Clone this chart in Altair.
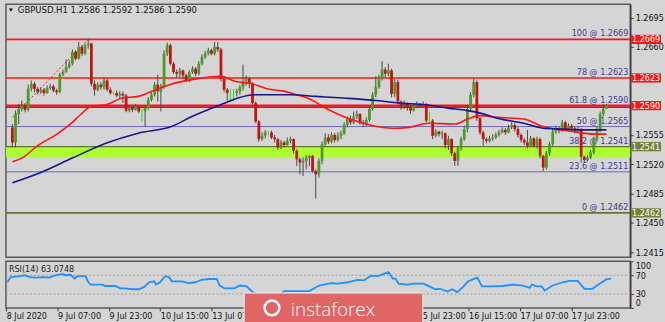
import altair as alt
import pandas as pd

# ---------------- data (prices in pips above 1.2400) ----------------
first_open = 164
close_pips = [146,180,186,190,185,210,216,210,206,209,
              205,211,213,208,206,227,230,236,240,254,
              246,260,252,262,264,216,209,215,212,220,
              209,205,205,202,204,202,184,188,185,189,
              183,183,187,197,203,215,207,213,252,262,
              240,230,228,232,226,220,230,234,228,240,
              248,252,256,252,260,257,222,209,205,205,
              205,207,212,219,222,216,193,171,150,154,
              158,158,152,150,140,146,143,148,150,136,
              126,122,124,128,130,112,108,124,144,152,
              147,155,149,154,157,167,174,170,177,180,
              170,168,173,186,203,212,223,233,228,232,
              204,218,195,190,193,188,184,190,192,190,
              192,172,172,154,159,156,157,143,150,133,
              124,139,150,162,186,203,218,175,158,150,
              148,151,152,155,158,161,158,164,167,162,
              155,149,146,142,151,142,150,130,116,133,
              144,159,163,160,170,162,166,163,160,162,
              129,125,128,134,150,162,180,186,190]
high_pips = [168,184,192,196,193,215,220,218,212,212,
             211,214,216,215,210,229,233,245,244,257,
             256,266,262,264,270,265,220,218,218,223,
             222,212,207,208,207,207,204,191,190,192,
             190,186,189,200,206,218,227,216,256,265,
             264,242,233,235,233,228,232,237,236,243,
             251,255,259,258,266,266,259,224,211,210,
             210,210,215,239,226,224,218,195,173,158,
             161,160,160,155,151,149,148,152,153,151,
             138,128,128,131,131,131,114,127,147,157,
             156,158,157,158,160,170,177,178,183,184,
             181,173,176,189,206,225,227,243,236,240,
             234,222,221,196,196,194,190,193,195,193,
             195,193,183,174,162,160,160,158,154,151,
             135,142,153,166,190,206,222,220,176,160,
             152,154,156,158,161,164,163,167,170,169,
             164,157,151,161,154,152,153,152,131,136,
             147,162,166,165,173,172,169,168,165,165,
             163,130,131,137,153,165,183,192,192]
low_pips = [140,140,168,183,182,183,207,206,203,204,
            202,204,209,206,203,205,225,229,234,238,
            244,245,249,250,258,213,202,207,209,209,
            207,203,203,200,198,193,182,182,182,184,
            181,171,165,185,195,201,195,183,210,249,
            238,228,224,224,222,218,218,228,225,226,
            238,246,250,250,250,254,219,206,196,195,
            195,201,203,208,214,211,191,169,147,148,
            151,155,150,146,137,138,140,142,145,133,
            118,108,106,114,118,110,79,104,120,141,
            144,145,146,147,150,155,164,167,168,174,
            167,164,165,171,184,200,210,220,224,225,
            200,200,192,185,186,184,180,183,187,188,
            189,170,170,150,152,153,150,139,137,130,
            118,118,136,148,158,183,200,172,155,142,
            145,146,148,150,153,157,155,157,162,159,
            152,146,143,139,141,140,139,127,112,114,
            130,142,156,157,159,160,160,160,157,158,
            122,122,123,126,132,148,158,177,186]

red_ma_bar = [0, 3.3, 7.9, 14.1, 18.7, 21.8, 24.9, 29.6, 34.8, 39.8,
              44.1, 49.7, 56.8, 66.1, 70.4, 76.0, 80.6, 86.2, 89.9, 94.6,
              98.6, 102.9, 106.9, 111.0, 115.3, 120.3, 125.5, 131.7, 140.1, 144.1,
              148.1, 153.4, 161.8, 167.9, 172.0, 177.2, 184.4, 188]
red_ma = [1.2523, 1.2528, 1.2542, 1.2556, 1.2569, 1.2580, 1.2589, 1.2591, 1.2599, 1.2601,
          1.2607, 1.2615, 1.2621, 1.2625, 1.2619, 1.2616, 1.2610, 1.2607, 1.2603, 1.2597,
          1.2588, 1.2580, 1.2574, 1.2569, 1.2565, 1.2563, 1.2564, 1.2569, 1.2568, 1.2574,
          1.2578, 1.2576, 1.2574, 1.2565, 1.2562, 1.2559, 1.2556, 1.2556]
navy_ma_bar = [0, 8.8, 19.3, 29.6, 39.8, 50.3, 56.8, 60.5, 67.3, 71.4,
               76.6, 87.8, 96.1, 104.8, 115.3, 122.4, 130.8, 137.9, 144.1, 148.1,
               153.4, 161.8, 167.9, 174.1, 180.3, 188]
navy_ma = [1.2498, 1.2510, 1.2528, 1.2545, 1.2557, 1.2565, 1.2577, 1.2583, 1.2593, 1.2599,
           1.2603, 1.2603, 1.2601, 1.2599, 1.2596, 1.2593, 1.2591, 1.2587, 1.2584, 1.2581,
           1.2575, 1.2569, 1.2563, 1.2562, 1.2561, 1.2561]

rsi_bar = [0, 1, 3.9, 5.4, 7, 8.8, 11, 13.2, 14.1, 15.6,
           17.2, 18.1, 19.7, 20.9, 21.8, 23.4, 24.3, 25.2, 25.9, 27.4,
           29.6, 30.5, 33.6, 35.1, 36.7, 38.9, 41, 42.6, 44.1, 45.7,
           46.3, 47.5, 49.1, 50.3, 51.2, 54.3, 56.5, 58.4, 60.5, 63,
           65.2, 66.1, 67.6, 70.7, 72.3, 74.5, 75.4, 76.9, 78.5, 80.5,
           83, 85, 86.2, 90.6, 94, 97.1, 100.8, 102.9, 106, 109.1,
           111, 113.2, 115.3, 117.2, 118.7, 120, 120.9, 121.8, 124.6, 126.5,
           129.6, 131.7, 133.3, 134.8, 137, 138.5, 140.1, 141.9, 143.5, 146.3,
           147.8, 150.3, 154.3, 157.4, 160.5, 162.7, 163.3, 164.9, 166.4, 167.3,
           169.8, 172.9, 175.1, 177.6, 179.7, 182.2, 184.4, 186.5, 188]
rsi_val = [55, 66, 68, 70, 66, 65, 66, 65, 68, 71,
           73, 70, 71, 63, 68, 68, 68, 55, 50, 50,
           50, 47, 47, 42, 42, 40, 40, 45, 55, 57,
           50, 55, 68, 66, 57, 57, 53, 55, 60, 62,
           62, 48, 42, 42, 48, 46, 40, 31, 27, 25,
           24, 28, 36, 36, 36, 48, 53, 52, 55, 60,
           59, 69, 68, 73, 77, 63, 63, 52, 50, 52,
           52, 45, 40, 41, 35, 40, 34, 45, 57, 65,
           46, 46, 47, 50, 48, 43, 50, 46, 46, 37,
           48, 55, 58, 58, 41, 41, 52, 61, 63]

fib_pct = ["100", "78", "61.8", "50", "38.2", "23.6", "0"]
fib_price = [1.2669, 1.2623, 1.2590, 1.2565, 1.2541, 1.2511, 1.2462]
band_top = [1.2541]
band_bottom = [1.2528]
trend_bar = [0, 24]
trend_price = [1.2576, 1.2669]
box_price = [1.2669, 1.2623, 1.2590, 1.2541, 1.2462]
price_ticks = [1.2415, 1.2450, 1.2485, 1.2520, 1.2555, 1.2660, 1.2695]
tick_bars = [0, 16, 32, 48, 64, 80, 96, 112, 128, 144, 160, 176]
tick_labels = ["8 Jul 2020", "9 Jul 07:00", "9 Jul 23:00", "10 Jul 15:00", "13 Jul 07:00",
               "13 Jul 23:00", "14 Jul 15:00", "15 Jul 07:00", "15 Jul 23:00", "16 Jul 15:00",
               "17 Jul 07:00", "17 Jul 23:00"]
rsi_levels = [30, 70]
title_text = "GBPUSD.H1  1.2586 1.2592 1.2586 1.2590"
rsi_text = "RSI(14) 63.0748"

# ---------------- styles ----------------
W, H_MAIN, H_RSI = 629, 255, 47
FONT = "Liberation Sans Narrow, Arial Narrow, DejaVu Sans Condensed, Liberation Sans, sans-serif"
BG = "#d5d5d5"
RED = "#ff1414"
NAVY = "#16168f"
SLATE = "#6a6ab4"
OLIVE = "#66762e"
BOX_OLIVE = "#72813c"
LBL = "#3a3a98"
GREEN = "#4f9a26"
BODY_RED = "#c01414"
WICK = "#4a4a4a"
LIME = "#22e022"
TICK_SHIFT = -0.4

fib_style = {"100": (RED, 1.6), "78": (RED, 1.6), "61.8": (RED, 2.2), "50": (SLATE, 1.0),
             "38.2": (OLIVE, 1.3), "23.6": (SLATE, 1.0), "0": (OLIVE, 1.6)}
box_style = {1.2669: RED, 1.2623: RED, 1.2590: RED, 1.2541: BOX_OLIVE, 1.2462: BOX_OLIVE}

xs = alt.Scale(domain=[-0.46, 193.97], nice=False, zero=False)
ys = alt.Scale(domain=[1.2409, 1.2711], nice=False, zero=False)
rs = alt.Scale(domain=[0, 100], nice=False, zero=False)

price_axis = alt.Axis(orient="right", values=price_ticks, format=".4f", title=None, grid=False,
                      tickSize=3, labelPadding=2, labelFont=FONT, labelFontSize=9,
                      labelColor="#111111", domainColor="#3c3c3c", tickColor="#3c3c3c",
                      domainWidth=1.5)


def X(f):
    return alt.X(f, type="quantitative", scale=xs, axis=None)


def Y(f):
    return alt.Y(f, type="quantitative", scale=ys, axis=price_axis)


# ---------------- tables ----------------
opens = [first_open] + close_pips[:-1]
candles = pd.DataFrame({
    "i": list(range(len(close_pips))),
    "o": [1.24 + v / 10000 for v in opens],
    "c": [1.24 + v / 10000 for v in close_pips],
    "h": [1.24 + v / 10000 for v in high_pips],
    "l": [1.24 + v / 10000 for v in low_pips],
    "doji": [o == c for o, c in zip(opens, close_pips)],
    "up": [c > o for o, c in zip(opens, close_pips)],
})

fib_df = pd.DataFrame({
    "price": fib_price,
    "label": [f"{p} @ {v:.4f}" for p, v in zip(fib_pct, fib_price)],
    "col": [fib_style[p][0] for p in fib_pct],
    "sw": [fib_style[p][1] for p in fib_pct],
})
box_df = pd.DataFrame({"p": box_price, "label": [f"{v:.4f}" for v in box_price],
                       "col": [box_style[v] for v in box_price]})
red_df = pd.DataFrame({"i": red_ma_bar, "p": red_ma})
navy_df = pd.DataFrame({"i": navy_ma_bar, "p": navy_ma})
trend_df = pd.DataFrame({"i": trend_bar, "p": trend_price})
rsi_df = pd.DataFrame({"i": rsi_bar, "v": rsi_val})
one = pd.DataFrame({"a": [0]})

# ---------------- main panel ----------------
band = alt.Chart(pd.DataFrame({"top": band_top, "bot": band_bottom})).mark_rect(
    color="#adff2f").encode(x=alt.value(0), x2=alt.value(W), y=Y("top"), y2="bot")

navy618 = alt.Chart(pd.DataFrame({"price": [fib_price[2]]})).mark_rule(
    color=NAVY, strokeWidth=1.2, yOffset=1.6).encode(x=alt.value(0), x2=alt.value(W), y=Y("price"))

fib_lines = alt.Chart(fib_df).mark_rule().encode(
    x=alt.value(0), x2=alt.value(W), y=Y("price"),
    color=alt.Color("col:N", scale=None), strokeWidth=alt.StrokeWidth("sw:Q", scale=None))

fib_labels = alt.Chart(fib_df).mark_text(
    align="right", baseline="bottom", dy=-1, font=FONT, fontSize=9, color=LBL).encode(
    x=alt.value(W - 2), y=Y("price"), text="label:N")

trend = alt.Chart(trend_df).mark_line(color=RED, strokeDash=[2, 2], strokeWidth=1).encode(
    x=X("i"), y=Y("p"))

wicks = alt.Chart(candles).mark_rule(strokeWidth=1).encode(
    x=X("i"), y=Y("l"), y2="h",
    color=alt.condition("datum.doji", alt.value(LIME), alt.value(WICK)))

bodies = alt.Chart(candles).mark_bar(size=2.8).encode(
    x=X("i"), y=Y("o"), y2="c",
    color=alt.condition("datum.up", alt.value(GREEN), alt.value(BODY_RED)))

red_line = alt.Chart(red_df).mark_line(color=RED, strokeWidth=1.6, interpolate="monotone").encode(
    x=X("i"), y=Y("p"))
navy_line = alt.Chart(navy_df).mark_line(color=NAVY, strokeWidth=1.6, interpolate="monotone").encode(
    x=X("i"), y=Y("p"))

boxes = alt.Chart(box_df).transform_calculate(
    top="datum.p + 0.00055", bot="datum.p - 0.00055").mark_rect().encode(
    x=alt.value(W + 1), x2=alt.value(W + 31), y=Y("top"), y2="bot",
    color=alt.Color("col:N", scale=None))
box_text = alt.Chart(box_df).mark_text(
    align="center", baseline="middle", font=FONT, fontSize=9, color="white").encode(
    x=alt.value(W + 16), y=Y("p"), text="label:N")

title = alt.Chart(pd.DataFrame({"t": [title_text]})).mark_text(
    align="left", baseline="middle", font=FONT, fontSize=9.5, color="#111111").encode(
    x=alt.value(12), y=alt.value(6), text="t:N")
tri = alt.Chart(one).mark_point(shape="triangle-down", filled=True, size=16, color="#111111",
                                opacity=1).encode(x=alt.value(5), y=alt.value(6))

main = alt.layer(band, navy618, fib_lines, trend, fib_labels, wicks, bodies, red_line, navy_line,
                 boxes, box_text, title, tri).properties(width=W, height=H_MAIN)

# ---------------- RSI panel ----------------
parts = [f"round(datum.value - ({TICK_SHIFT})) == {b} ? '{t}'" for b, t in zip(tick_bars, tick_labels)]
label_expr = " : ".join(parts) + " : ''"
time_axis = alt.Axis(values=[b + TICK_SHIFT for b in tick_bars], labelExpr=label_expr,
                     labelAlign="left", labelBaseline="top", labelFont=FONT, labelFontSize=9,
                     labelColor="#111111", tickSize=3, tickColor="#333333", domain=False,
                     grid=False, title=None, labelPadding=1, labelOverlap=False, labelFlush=False)
rsi_axis = alt.Axis(orient="right", values=[0, 30, 70, 100], title=None, grid=False, tickSize=3,
                    labelPadding=2, labelFont=FONT, labelFontSize=9, labelColor="#111111",
                    domainColor="#3c3c3c", tickColor="#3c3c3c", labelFlush=True, domainWidth=1.5)

rsi_lvl = alt.Chart(pd.DataFrame({"v": rsi_levels})).mark_rule(
    color="#9c9c9c", strokeDash=[2, 2], strokeWidth=1).encode(
    x=alt.value(0), x2=alt.value(W), y=alt.Y("v:Q", scale=rs, axis=rsi_axis))
rsi_line = alt.Chart(rsi_df).mark_line(color="#1e90ff", strokeWidth=1.8).encode(
    x=alt.X("i:Q", scale=xs, axis=time_axis), y=alt.Y("v:Q", scale=rs, axis=rsi_axis))
rsi_lab = alt.Chart(pd.DataFrame({"t": [rsi_text]})).mark_text(
    align="left", baseline="middle", font=FONT, fontSize=9, color="#222222").encode(
    x=alt.value(3), y=alt.value(8), text="t:N")

logo_box = alt.Chart(one).mark_rect(color="#e06666", stroke="#f2f2f2", strokeWidth=1,
                                    cornerRadius=2).encode(
    x=alt.value(240), x2=alt.value(420), y=alt.value(32), y2=alt.value(63))
logo_ring = alt.Chart(one).mark_point(shape="circle", filled=False, size=220, strokeWidth=2.5,
                                      color="white", opacity=1).encode(
    x=alt.value(268), y=alt.value(47))
logo_text = alt.Chart(pd.DataFrame({"t": ["instaforex"]})).mark_text(
    align="left", baseline="alphabetic", font="Open Sans", fontSize=19, fontWeight=300,
    color="white").encode(x=alt.value(287), y=alt.value(55), text="t:N")

rsi = alt.layer(rsi_lvl, rsi_line, rsi_lab, logo_box, logo_ring, logo_text).properties(
    width=W, height=H_RSI)

chart = alt.vconcat(main, rsi, spacing=1).properties(
    background=BG, padding={"left": 3, "top": 2, "right": 0, "bottom": 0}
).configure_view(stroke="#5a5a5a", strokeWidth=1.5)

chart.save("out.html", embed_options={"renderer": "svg", "actions": False})
